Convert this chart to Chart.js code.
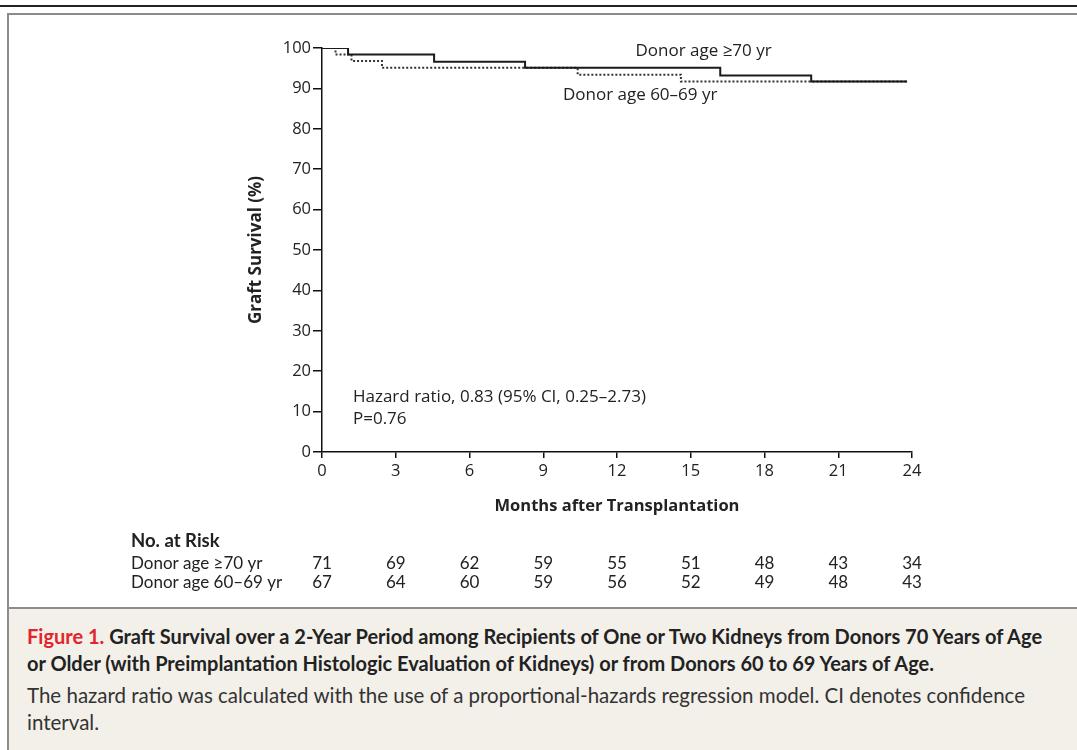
<!DOCTYPE html>
<html lang="en">

<head>
    <meta charset="UTF-8">
    <title>Graft Survival</title>
    <script src="https://cdn.jsdelivr.net/npm/chart.js"></script>
    <style>
        body { margin: 0; width: 1077px; height: 750px; background: #fff; position: relative; overflow: hidden; }
        #topLine { position: absolute; top: 5px; left: 0; width: 1077px; height: 2px; background: #222; }
        #frame { position: absolute; top: 13px; left: 7px; width: 1080px; height: 740px; border-top: 2px solid #8c8c8c; border-left: 2px solid #8c8c8c; }
        #grafico { position: absolute; top: 0; left: 0; }
        #legenda { position: absolute; top: 607px; left: 9px; width: 1068px; height: 143px; background: #f3f0ea;
            border-top: 2px solid #8c8c8c; box-sizing: border-box; padding: 14px 14px 0 18px; font-family: Lato, sans-serif; color: #222; }
        #legenda .titulo { font-size: 20px; font-weight: bold; line-height: 27px; margin: 0; }
        #legenda .titulo span { color: #e2242b; }
        #legenda .texto { font-size: 20.5px; line-height: 27px; margin: 5px 0 0 0; color: #333; }
    </style>
</head>

<body>
    <div id="topLine"></div>
    <div id="frame"></div>
    <canvas id="grafico" width="1077" height="608"></canvas>
    <div id="legenda">
        <p class="titulo"><span>Figure 1.</span> Graft Survival over a 2-Year Period among Recipients of One or Two Kidneys from Donors 70 Years of Age or Older (with Preimplantation Histologic Evaluation of Kidneys) or from Donors 60 to 69 Years of Age.</p>
        <p class="texto">The hazard ratio was calculated with the use of a proportional-hazards regression model. CI denotes confidence interval.</p>
    </div>

    <script>
        // curva donor >= 70 (linha cheia)
        const mesesMais70 = [0, 1.06, 4.56, 8.26, 16.2, 19.9, 23.8];
        const sobrevidaMais70 = [100, 98.4, 96.6, 95.1, 93.2, 91.7, 91.7];

        // curva donor 60-69 (pontilhada)
        const meses6069 = [0, 0.55, 1.2, 2.44, 10.4, 14.6, 23.8];
        const sobrevida6069 = [100, 98.4, 96.8, 95.1, 93.4, 91.7, 91.7];

        // tabela numero em risco
        const mesesRisco = [0, 3, 6, 9, 12, 15, 18, 21, 24];
        const riscoMais70 = [71, 69, 62, 59, 55, 51, 48, 43, 34];
        const risco6069 = [67, 64, 60, 59, 56, 52, 49, 48, 43];
        const nomesGrupos = ['Donor age \u226570 yr', 'Donor age 60\u201369 yr'];

        function montarPontos(xs, ys) {
            let pontos = [];
            for (let i = 0; i < xs.length; i++) {
                pontos.push({ x: xs[i], y: ys[i] });
            }
            return pontos;
        }

        const textosPlugin = {
            id: 'textos',
            afterDraw(chart) {
                const ctx = chart.ctx;
                const x = chart.scales.x;
                const y = chart.scales.y;
                ctx.save();
                ctx.fillStyle = '#222';
                ctx.textBaseline = 'middle';

                // rotulos das curvas e hazard ratio
                ctx.font = '17px "Open Sans"';
                ctx.textAlign = 'left';
                ctx.fillText(nomesGrupos[0], x.getPixelForValue(12.75), y.getPixelForValue(99.3));
                ctx.fillText(nomesGrupos[1], x.getPixelForValue(9.8), y.getPixelForValue(88.4));
                ctx.fillText('Hazard ratio, 0.83 (95% CI, 0.25\u20132.73)', x.getPixelForValue(1.26), y.getPixelForValue(13.6));
                ctx.fillText('P=0.76', x.getPixelForValue(1.26), y.getPixelForValue(8.2));

                // tabela de risco
                ctx.font = 'bold 18.5px Lato';
                ctx.fillText('No. at Risk', 131, 541);
                ctx.font = '17px Lato';
                ctx.fillText(nomesGrupos[0], 131, 564);
                ctx.fillText(nomesGrupos[1], 131, 583);
                ctx.textAlign = 'center';
                for (let i = 0; i < mesesRisco.length; i++) {
                    let px = x.getPixelForValue(mesesRisco[i]);
                    ctx.fillText(riscoMais70[i], px, 564);
                    ctx.fillText(risco6069[i], px, 583);
                }
                ctx.restore();
            }
        };

        new Chart(document.getElementById('grafico'), {
            type: 'line',
            data: {
                datasets: [{
                    label: nomesGrupos[0],
                    data: montarPontos(mesesMais70, sobrevidaMais70),
                    borderColor: '#1a1a1a',
                    borderWidth: 2,
                    stepped: 'before',
                    pointRadius: 0
                }, {
                    label: nomesGrupos[1],
                    data: montarPontos(meses6069, sobrevida6069),
                    borderColor: '#333',
                    borderWidth: 2,
                    borderDash: [2, 2],
                    stepped: 'before',
                    pointRadius: 0
                }]
            },
            options: {
                responsive: false,
                animation: false,
                layout: { padding: { left: 230, top: 48, right: 165, bottom: 86 } },
                plugins: { legend: { display: false }, tooltip: { enabled: false } },
                scales: {
                    x: {
                        type: 'linear',
                        min: 0,
                        max: 24,
                        afterFit(scale) { scale.height = 70; },
                        border: { display: true, color: '#111', width: 1.5 },
                        grid: { drawOnChartArea: false, drawTicks: true, tickLength: 6, color: '#111', lineWidth: 1.5 },
                        ticks: { stepSize: 3, padding: 3, color: '#222', font: { family: 'Open Sans', size: 16.5 }, maxRotation: 0 },
                        title: { display: true, text: 'Months after Transplantation', color: '#222',
                            font: { family: 'Open Sans', size: 16.5, weight: 'bold' }, padding: { bottom: 6 } }
                    },
                    y: {
                        min: 0,
                        max: 100,
                        afterFit(scale) { scale.width = 92; },
                        border: { display: true, color: '#111', width: 1.5 },
                        grid: { drawOnChartArea: false, drawTicks: true, tickLength: 9, color: '#111', lineWidth: 1.5 },
                        ticks: { stepSize: 10, padding: 2, color: '#222', font: { family: 'Open Sans', size: 16.5 } },
                        title: { display: true, text: 'Graft Survival (%)', color: '#222',
                            font: { family: 'Open Sans', size: 17, weight: 'bold' }, padding: { top: 16 } }
                    }
                }
            },
            plugins: [textosPlugin]
        });
    </script>
</body>

</html>
